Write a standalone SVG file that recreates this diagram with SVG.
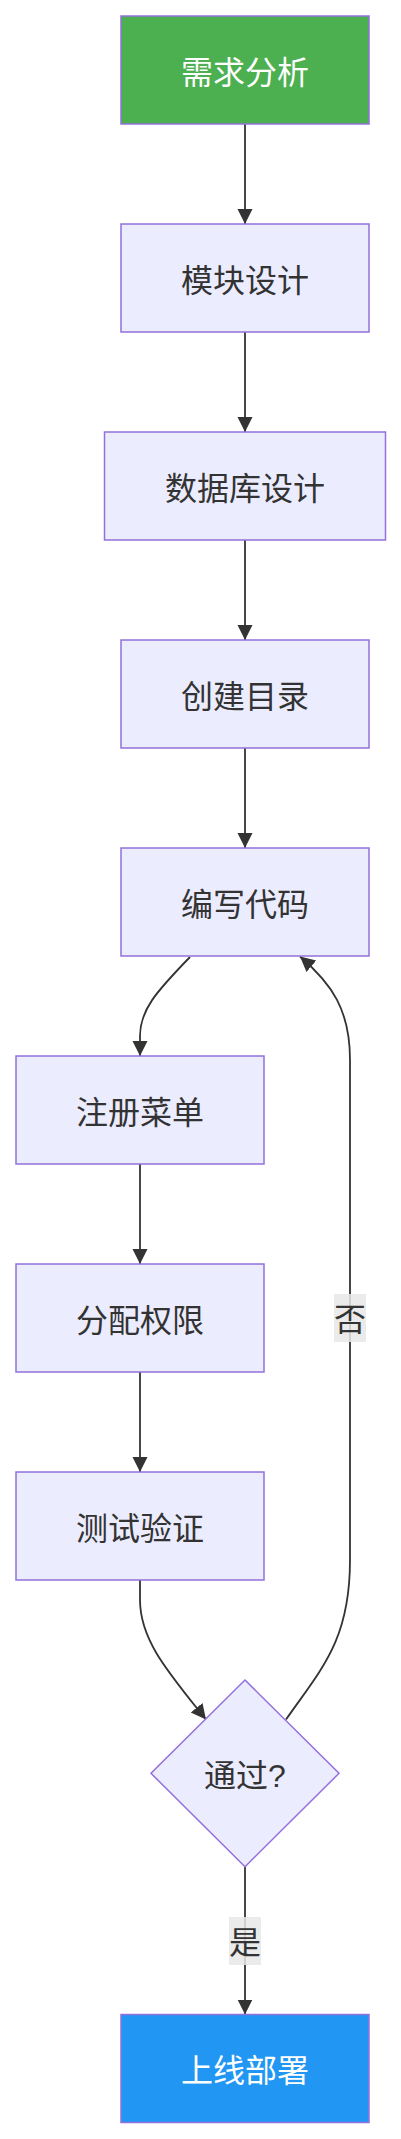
<svg xmlns="http://www.w3.org/2000/svg" width="401" height="2139" viewBox="0 0 401 2139">
<style>
.node rect,.node polygon{fill:#ECECFF;stroke:#9370DB;stroke-width:1.5}
.node text{font-family:"Liberation Sans","Noto Sans CJK SC",sans-serif;font-size:32px;fill:#333;text-anchor:middle}
#A rect{fill:#4CAF50}
#I rect{fill:#2196F3}
#A text,#I text{fill:#fff}
.edge{fill:none;stroke:#333;stroke-width:1.8}
.lbl rect{fill:#e8e8e8;fill-opacity:0.85}
.lbl text{font-family:"Liberation Sans","Noto Sans CJK SC",sans-serif;font-size:32px;fill:#333;text-anchor:middle}
</style>
<defs>
<marker id="arr" markerUnits="userSpaceOnUse" markerWidth="16" markerHeight="16" refX="15" refY="7.5" orient="auto">
<path d="M0,0 L15,7.5 L0,15 z" fill="#333"/>
</marker>
</defs>
<rect width="401" height="2139" fill="#fff"/>
<g id="edges">
<path class="edge" d="M245,124 L245,224" marker-end="url(#arr)"/>
<path class="edge" d="M245,332 L245,432" marker-end="url(#arr)"/>
<path class="edge" d="M245,540 L245,640" marker-end="url(#arr)"/>
<path class="edge" d="M245,748 L245,848" marker-end="url(#arr)"/>
<path class="edge" d="M190,957 C156,992 140,1010 140,1036 L140,1056" marker-end="url(#arr)"/>
<path class="edge" d="M140,1164 L140,1264" marker-end="url(#arr)"/>
<path class="edge" d="M140,1372 L140,1472" marker-end="url(#arr)"/>
<path class="edge" d="M140,1580 L140,1600 C140,1640 168,1672 206,1719.5" marker-end="url(#arr)"/>
<path class="edge" d="M286,1719.5 C322,1668 350,1640 350,1560 L350,1060 C350,1010 332,984 300,956.5" marker-end="url(#arr)"/>
<path class="edge" d="M245,1866.7 L245,2014.5" marker-end="url(#arr)"/>
<g class="lbl">
<rect x="334" y="1294" width="32" height="48"/>
<text x="350" y="1331">否</text>
<rect x="229" y="1917" width="32" height="48"/>
<text x="245" y="1954">是</text>
</g>
</g>
<g id="A" class="node"><rect x="121" y="16" width="248" height="108"/><text x="245" y="84">需求分析</text></g>
<g id="B" class="node"><rect x="121" y="224" width="248" height="108"/><text x="245" y="292">模块设计</text></g>
<g id="C" class="node"><rect x="104.5" y="432" width="281" height="108"/><text x="245" y="500">数据库设计</text></g>
<g id="D" class="node"><rect x="121" y="640" width="248" height="108"/><text x="245" y="708">创建目录</text></g>
<g id="E" class="node"><rect x="121" y="848" width="248" height="108"/><text x="245" y="916">编写代码</text></g>
<g id="F" class="node"><rect x="16" y="1056" width="248" height="108"/><text x="140" y="1124">注册菜单</text></g>
<g id="G" class="node"><rect x="16" y="1264" width="248" height="108"/><text x="140" y="1332">分配权限</text></g>
<g id="H" class="node"><rect x="16" y="1472" width="248" height="108"/><text x="140" y="1540">测试验证</text></g>
<g id="J" class="node"><polygon points="245,1680 339,1773.3 245,1866.7 151,1773.3"/><text x="245" y="1787">通过?</text></g>
<g id="I" class="node"><rect x="121" y="2014.5" width="248" height="108"/><text x="245" y="2082">上线部署</text></g>
</svg>
